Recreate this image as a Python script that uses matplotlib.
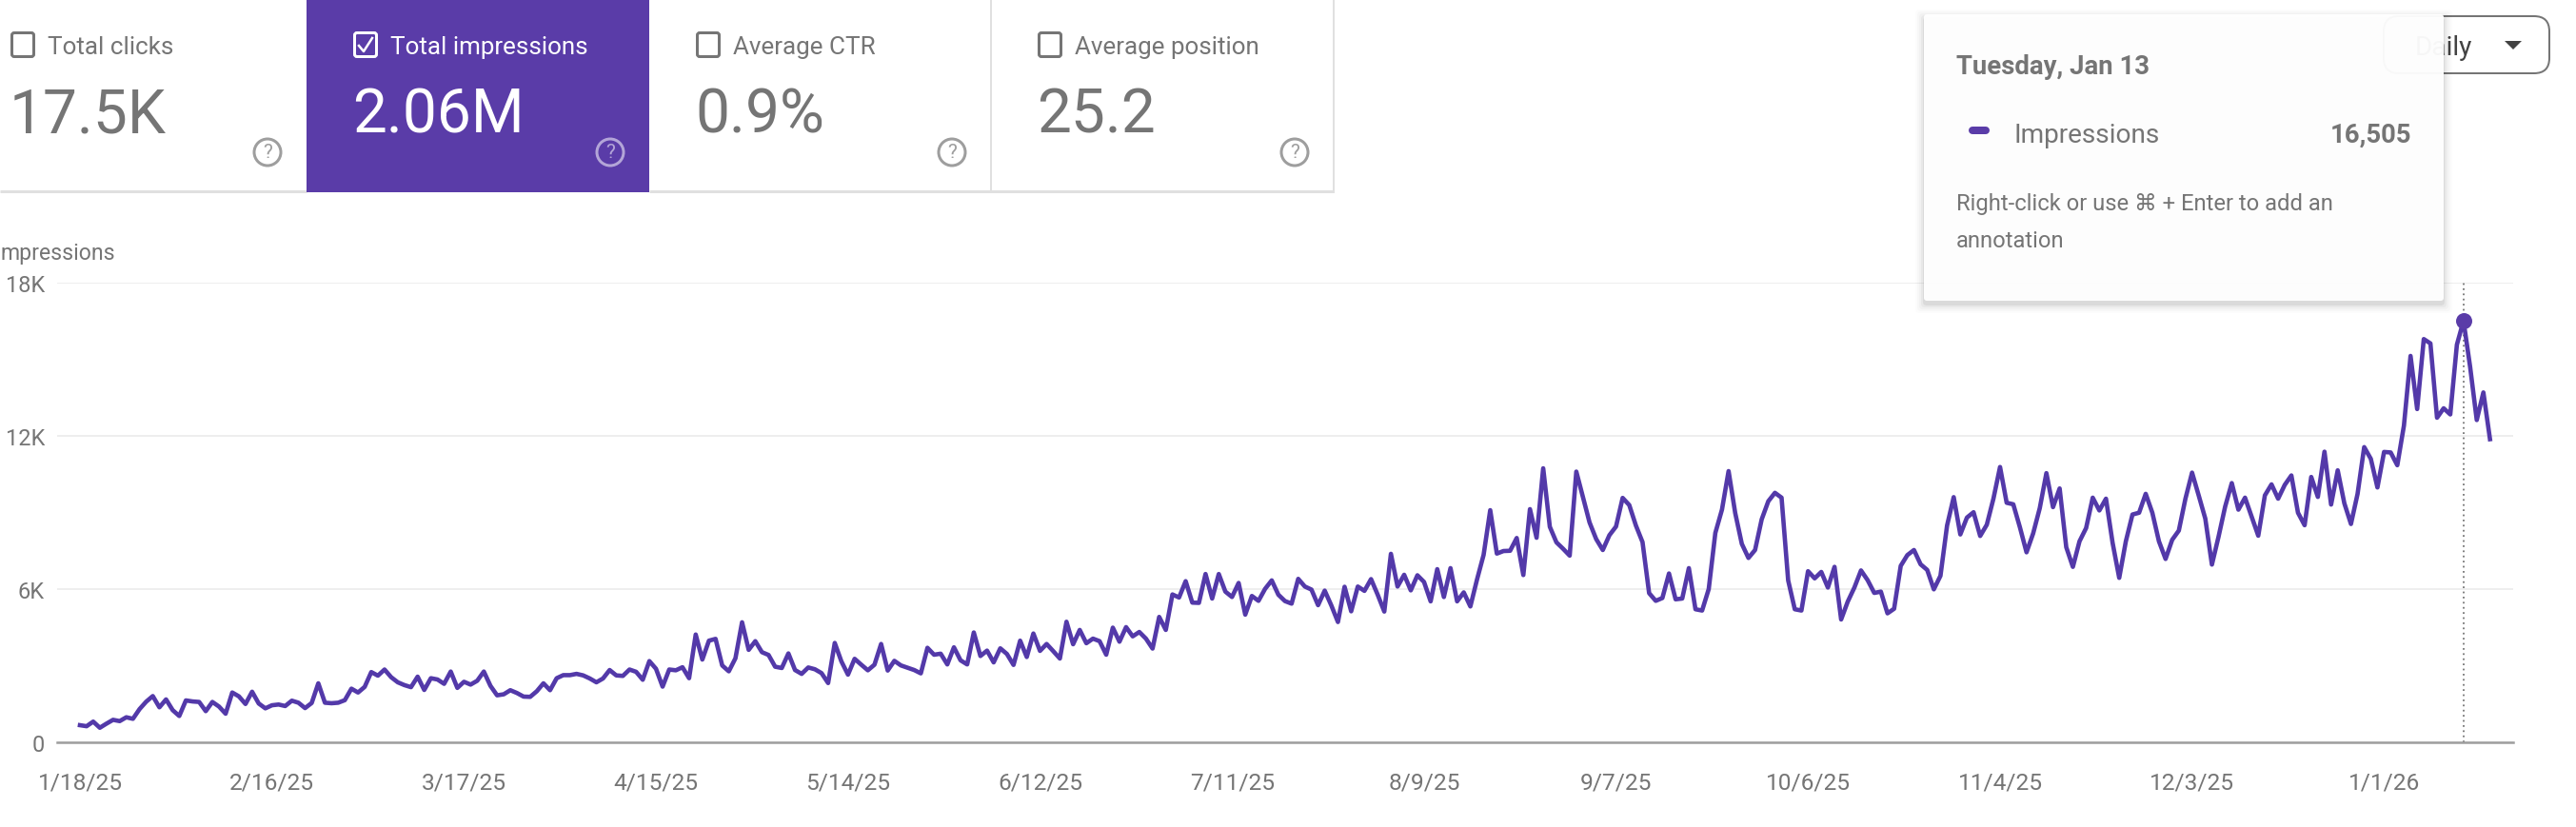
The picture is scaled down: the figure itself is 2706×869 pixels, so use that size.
import numpy as np
import pandas as pd
import matplotlib
matplotlib.use('Agg')
import matplotlib.pyplot as plt
from matplotlib.patches import FancyBboxPatch, Circle, Polygon

plt.rcParams['font.family'] = ['Roboto', 'DejaVu Sans']

# One value per day
impressions = [
    670, 630, 810, 570, 730, 880, 830, 980, 920, 1300, 1590, 1810, 1370, 1680, 1260, 1030,
    1640, 1600, 1580, 1220, 1580, 1400, 1120, 1950, 1800, 1500, 1980, 1520, 1330, 1450, 1480,
    1420, 1630, 1550, 1340, 1540, 2310, 1550, 1530, 1550, 1650, 2100, 1950, 2170, 2750, 2610,
    2850, 2550, 2350, 2240, 2160, 2570, 2050, 2510, 2460, 2290, 2770, 2130, 2370, 2260, 2410,
    2770, 2210, 1840, 1880, 2040, 1930, 1790, 1780, 2000, 2310, 2040, 2510, 2630, 2630, 2680,
    2620, 2500, 2350, 2500, 2830, 2620, 2600, 2850, 2760, 2450, 3180, 2880, 2180, 2850, 2820,
    2940, 2510, 4220, 3240, 3980, 4050, 3010, 2780, 3290, 4700, 3620, 3960, 3530, 3420, 2960,
    2910, 3480, 2830, 2680, 2930, 2860, 2710, 2320, 3890, 3170, 2650, 3270, 3040, 2820, 3040,
    3850,
    2810, 3190, 3010, 2920, 2830, 2700, 3700, 3430, 3470, 3050, 3720, 3210, 3050, 4300, 3380,
    3590, 3130, 3680, 3460, 3030, 3980, 3340, 4260, 3580, 3850, 3570, 3280, 4720, 3840, 4400,
    3880, 4060, 3960, 3430, 4490, 3940, 4510, 4150, 4320, 4060, 3670, 4910, 4400, 5790, 5670,
    6310, 5470, 5460, 6590, 5630, 6590, 5900, 5690, 6240, 5000, 5730, 5540, 6010, 6340, 5780,
    5530,
    5430, 6400, 6100, 5980, 5370, 5940, 5360, 4710, 6090, 5130, 6100, 5930, 6390, 5780, 5120,
    7380, 6100, 6560, 5950, 6540, 6280, 5520, 6780, 5690, 6820, 5520, 5870, 5320, 6370, 7340,
    9090, 7390, 7490, 7500, 8000, 6550, 9130, 8010, 10730, 8440, 7830, 7580, 7310, 10600, 9600,
    8610, 7960, 7530, 8110, 8450, 9570, 9290, 8490, 7840, 5840, 5540, 5650, 6610, 5600, 5630,
    6820,
    5210, 5160, 6000, 8200, 9110, 10620, 8980, 7770, 7220, 7530, 8730, 9440, 9770, 9580, 6340,
    5210, 5160, 6700, 6420, 6670, 6060, 6870, 4810, 5510, 6060, 6730, 6350, 5850, 5900, 5050,
    5230, 6910, 7330, 7530, 6970, 6750, 5990, 6520, 8490, 9600, 8140, 8800, 9010, 8080, 8520,
    9540, 10780, 9380, 9320, 8420, 7440, 8180, 9170, 10540, 9210, 9940, 7640, 6870, 7870, 8390,
    9580,
    9080, 9540, 7810, 6440, 7870, 8920, 8990, 9730, 8990, 7870, 7180, 7930, 8290, 9540, 10560,
    9670, 8760, 6960, 8050, 9230, 10150, 9110, 9580, 8840, 8090, 9670, 10100, 9540, 10080,
    10450, 8990, 8500, 10390, 9610, 11380, 9310, 10650, 9360, 8550, 9730, 11560, 11100, 9980,
    11370, 11350, 10850, 12400, 15130, 13050, 15790, 15620, 12710, 13080, 12840, 15570, 16505,
    14700, 12620, 13700, 11870,
]
days = pd.date_range('2025-01-18', periods=len(impressions), freq='D')
highlight_day = pd.Timestamp('2026-01-13')
highlight_value = 16505

tick_days = pd.date_range('2025-01-18', periods=13, freq='29D')
tick_labels = ['1/18/25', '2/16/25', '3/17/25', '4/15/25', '5/14/25', '6/12/25', '7/11/25',
               '8/9/25', '9/7/25', '10/6/25', '11/4/25', '12/3/25', '1/1/26']
y_ticks = [0, 6000, 12000, 18000]
y_labels = ['0', '6K', '12K', '18K']

card_titles = ['Total clicks', 'Total impressions', 'Average CTR', 'Average position']
card_values = ['17.5K', '2.06M', '0.9%', '25.2']

W, H = 2706, 870
PURPLE = '#5a3ca8'
LINE = '#5339a9'
GRAY = '#757575'


def pt(px):
    return px / 100 * 72


def draw_card(ax, i, x0, x1):
    active = i == 1
    fg = 'white' if active else GRAY
    if active:
        ax.fill_between([x0, x1], 0, 203, color=PURPLE, lw=0, zorder=2)
    else:
        ax.plot([x0, x1], [202, 202], color='#e0e0e0', lw=pt(3), zorder=1, solid_capstyle='butt')
    left = x0 + 49 if i else 11
    # checkbox
    ax.add_patch(FancyBboxPatch((left + 1.5, 35.5), 23, 25, boxstyle='round,pad=0,rounding_size=2.5',
                                fc='none', ec=fg, lw=pt(3), zorder=3))
    if active:
        ax.plot([left + 6, left + 11, left + 20], [49, 55, 41], color='white', lw=pt(2.5), zorder=3)
    ax.text(left + 39, 50, card_titles[i], color=fg, fontsize=pt(26), va='center', ha='left', zorder=4)
    ax.text(left - 1, 139, card_values[i], color=fg, fontsize=pt(64), va='baseline', ha='left', zorder=4)
    # help icon
    hx = x1 - 41
    hc = '#b3a5d8' if active else '#9e9e9e'
    ax.add_patch(Circle((hx, 161), 14, fc='none', ec=hc, lw=pt(3), zorder=3))
    ax.text(hx, 161, '?', color=hc, fontsize=pt(21), ha='center', va='center', zorder=4)


def draw_tooltip(ax):
    x0, x1, y0, y1 = 2021, 2567, 16, 317
    # soft shadow
    for grow, alpha in [(9, 0.012), (7, 0.018), (5, 0.025), (3, 0.035), (1, 0.06)]:
        ax.add_patch(FancyBboxPatch((x0 - grow, y0 - grow + 4), x1 - x0 + 2 * grow, y1 - y0 + 2 * grow,
                                    boxstyle='round,pad=0,rounding_size=4', fc='black', ec='none',
                                    alpha=alpha, zorder=6))
    ax.add_patch(FancyBboxPatch((x0, y0), x1 - x0, y1 - y0, boxstyle='round,pad=0,rounding_size=3',
                                fc='white', ec='none', alpha=0.96, zorder=7))
    ax.text(2055, 70, 'Tuesday, Jan 13', color=GRAY, fontsize=pt(27.5), fontweight='bold',
            va='center', ha='left', zorder=8)
    ax.plot([2072, 2086], [138, 138], color=PURPLE, lw=pt(8), solid_capstyle='round', zorder=8)
    ax.text(2115, 142, 'Impressions', color=GRAY, fontsize=pt(28), va='center', ha='left', zorder=8)
    ax.text(2533, 142, '16,505', color=GRAY, fontsize=pt(27.5), fontweight='bold',
            va='center', ha='right', zorder=8)
    ax.text(2055, 214, 'Right-click or use \u2318 + Enter to add an', color=GRAY, fontsize=pt(23.8),
            va='center', ha='left', zorder=8)
    ax.text(2055, 253, 'annotation', color=GRAY, fontsize=pt(23.8), va='center', ha='left', zorder=8)


def draw_button(ax):
    ax.add_patch(FancyBboxPatch((2504, 18), 174, 60, boxstyle='round,pad=0,rounding_size=16',
                                fc='white', ec=GRAY, lw=pt(2), zorder=5))
    ax.text(2537, 50, 'Daily', color='#424242', fontsize=pt(28), va='center', ha='left', zorder=5)
    ax.add_patch(Polygon([[2631, 44], [2649, 44], [2640, 53]], fc='#424242', ec='none', zorder=5))


fig = plt.figure(figsize=(W / 100, H / 100), dpi=100, facecolor='white')

# chart area: 60..2640 px wide, 298..781 px tall
ax = fig.add_axes([60 / W, 1 - 781 / H, 2580 / W, 483 / H])
ax.plot(days, impressions, color=LINE, lw=pt(4.6), solid_joinstyle='round', zorder=3)
ax.axvline(highlight_day, color=GRAY, lw=pt(1.8), ls=(0, (1, 2)), zorder=2)
ax.plot([highlight_day], [highlight_value], 'o', color=PURPLE, ms=pt(17), mew=0, zorder=4)
ax.set_xlim(days[0] - pd.Timedelta(days=3.45), days[0] + pd.Timedelta(days=367.5))
ax.set_ylim(0, 18000)
ax.set_yticks(y_ticks, y_labels)
ax.set_xticks(tick_days, tick_labels)
ax.grid(axis='y', color='#eeeeee', lw=pt(2))
ax.set_axisbelow(True)
for side in ['top', 'right', 'left']:
    ax.spines[side].set_visible(False)
ax.spines['bottom'].set_color('#9e9e9e')
ax.spines['bottom'].set_linewidth(pt(2.5))
ax.tick_params(axis='y', length=0, labelcolor=GRAY, labelsize=pt(23.5), pad=pt(13))
ax.tick_params(axis='x', length=0, labelcolor=GRAY, labelsize=pt(24.5), pad=pt(31))

# everything around the chart, in pixel coordinates
over = fig.add_axes([0, 0, 1, 1], zorder=5)
over.set_xlim(0, W)
over.set_ylim(H, 0)
over.axis('off')

card_edges = [0, 322, 682, 1041, 1401]
for k in range(4):
    draw_card(over, k, card_edges[k], card_edges[k + 1])
for xv in [1041, 1401]:
    over.plot([xv, xv], [0, 203], color='#e0e0e0', lw=pt(2), zorder=1)
over.text(0, 267, 'mpressions', color=GRAY, fontsize=pt(23), va='center', ha='left')

draw_button(over)
draw_tooltip(over)

fig.savefig('out.png', dpi=100)
